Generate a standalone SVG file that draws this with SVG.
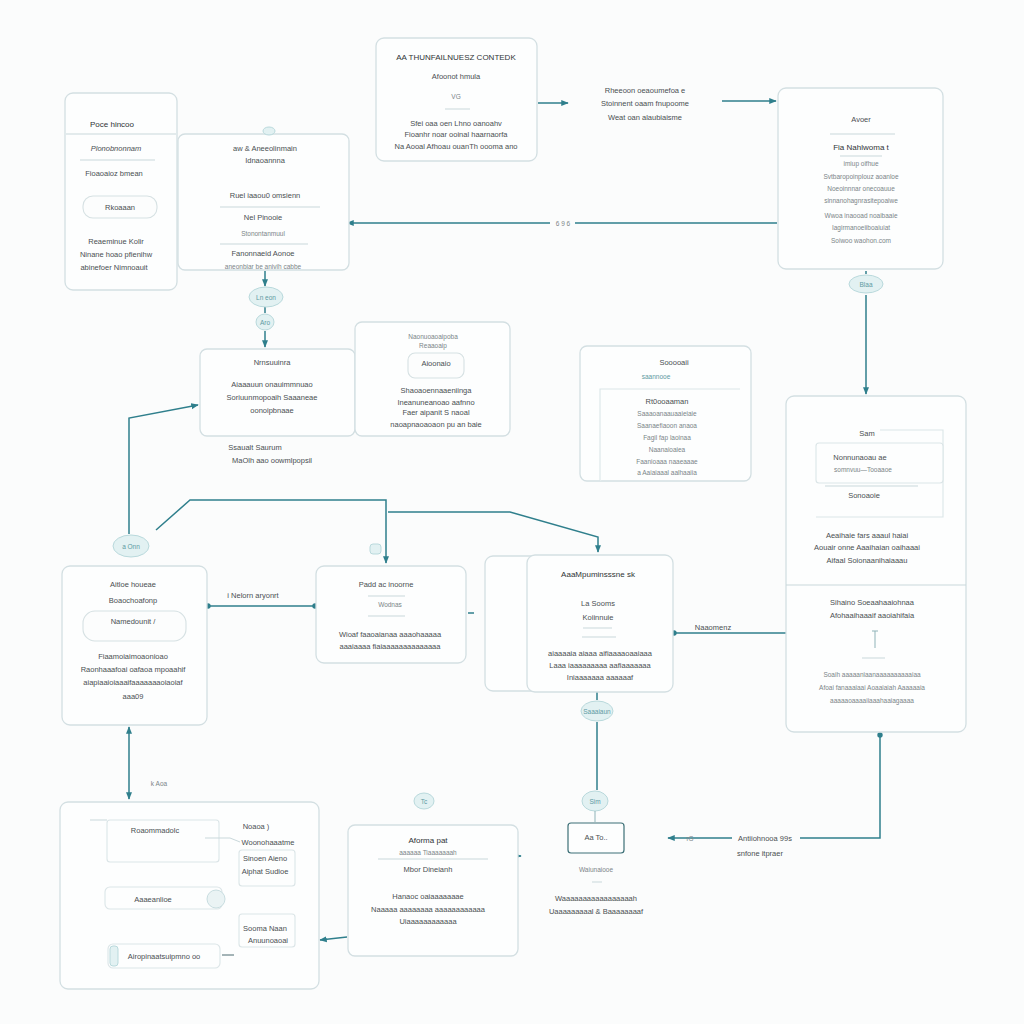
<svg xmlns="http://www.w3.org/2000/svg" width="1024" height="1024" viewBox="0 0 1024 1024">
<defs>
<style>
.bg{fill:#fbfcfc}
.box{fill:#fdfefe;stroke:#d3dfe2;stroke-width:1.3}
.inner{fill:#fdfefe;stroke:#dbe5e7;stroke-width:1.1}
.pill{fill:#fcfdfd;stroke:#d6e1e3;stroke-width:1.1}
.sep{stroke:#c9d8db;stroke-width:1}
.con{fill:none;stroke:#2f7f8c;stroke-width:1.5}
.bub{fill:#e2f1f2;stroke:#b9d9dc;stroke-width:1}
.t{font-family:"Liberation Sans",Arial,sans-serif;font-size:7.5px;fill:#4a4f52;text-anchor:middle}
.h{font-family:"Liberation Sans",Arial,sans-serif;font-size:8px;fill:#2f3436;text-anchor:middle}
.s{font-family:"Liberation Sans",Arial,sans-serif;font-size:6.5px;fill:#7b8588;text-anchor:middle}
.c{font-family:"Liberation Sans",Arial,sans-serif;font-size:6.5px;fill:#5e9aa2;text-anchor:middle}
</style>
<marker id="ar" viewBox="0 0 10 10" refX="9" refY="5" markerWidth="5" markerHeight="5" orient="auto-start-reverse"><path d="M0,1 L10,5 L0,9 z" fill="#2f7f8c"/></marker>
<marker id="dot" viewBox="0 0 10 10" refX="5" refY="5" markerWidth="4.5" markerHeight="4.5"><circle cx="5" cy="5" r="4" fill="#2f7f8c"/></marker>
</defs>
<rect class="bg" x="0" y="0" width="1024" height="1024"/>

<g id="connectors">
<path class="con" d="M538,103 L568,103" marker-end="url(#ar)"/>
<path class="con" d="M722,101 L776,101" marker-end="url(#ar)"/>
<path class="con" d="M777,223 L575,223 M550,223 L347,223" marker-end="url(#ar)"/>
<path class="con" d="M265,271 L265,286" marker-end="url(#ar)"/>
<path class="con" d="M265,307 L265,313"/>
<path class="con" d="M265,331 L265,347" marker-end="url(#ar)"/>
<path class="con" d="M866,271 L866,274"/>
<path class="con" d="M866,295 L866,394" marker-end="url(#ar)"/>
<path class="con" d="M129,534 L129,418 L198,405" marker-end="url(#ar)"/>
<path class="con" d="M156,530 L190,500 L386,500 L386,563" marker-end="url(#ar)"/>
<path class="con" d="M388,512 L510,512 L598,537 L598,552" marker-end="url(#ar)"/>
<path class="con" d="M208,606 L315,606" marker-start="url(#dot)" marker-end="url(#dot)"/>
<path class="con" d="M468,613 L474,613" stroke-width="1"/>
<path class="con" d="M805,633 L674,633" marker-end="url(#dot)"/>
<path class="con" d="M597,692 L597,700"/>
<path class="con" d="M597,722 L597,790"/>
<path class="con" d="M880,735 L880,838 L800,838" marker-start="url(#dot)"/>
<path class="con" d="M732,838 L668,838" marker-end="url(#ar)"/>
<path class="con" d="M129,727 L129,799" marker-start="url(#ar)" marker-end="url(#ar)"/>
<path class="con" d="M347,937 L320,940" marker-end="url(#ar)"/>
<path class="con" d="M500,856 L521,856" marker-end="url(#ar)"/>
</g>

<g id="labels">
<text class="t" x="645" y="93">Rheeoon oeaoumefoa e</text>
<text class="t" x="645" y="106">Stoinnent oaam  fnupoome</text>
<text class="t" x="645" y="120">Weat oan alaubiaisme</text>
<text class="s" x="563" y="226">6 9 6</text>
<text class="t" x="255" y="450">Ssaualt Saurum</text>
<text class="t" x="272" y="463">MaOlh aao oowmlpopsil</text>
<text class="t" x="253" y="598">i Nelorn aryonrt</text>
<text class="t" x="713" y="630">Naaomenz</text>
<text class="t" x="765" y="841">Antiiohnooa 99s</text>
<text class="t" x="760" y="856">snfone itpraer</text>
<text class="s" x="690" y="841">rG</text>
<text class="s" x="159" y="786">k Aoa</text>
</g>

<g id="nodeA">
<rect class="box" x="376" y="38" width="161" height="123" rx="8"/>
<text class="h" x="456" y="60">AA THUNFAILNUESZ CONTEDK</text>
<text class="t" x="456" y="79">Afoonot hmula</text>
<text class="s" x="456" y="99">VG</text>
<line class="sep" x1="445" y1="109" x2="470" y2="109"/>
<text class="t" x="456" y="126">Sfei oaa oen Lhno oanoahv</text>
<text class="t" x="456" y="137">Fioanhr noar ooinal haarnaorfa</text>
<text class="t" x="456" y="149">Na Aooal Afhoau ouanTh oooma ano</text>
</g>

<g id="nodeB">
<rect class="box" x="778" y="88" width="165" height="181" rx="8"/>
<text class="t" x="861" y="122">Avoer</text>
<line class="sep" x1="830" y1="134" x2="895" y2="134"/>
<text class="h" x="861" y="150">Fia Nahlwoma t</text>
<line class="sep" x1="840" y1="156" x2="882" y2="156"/>
<text class="s" x="861" y="166">imiup oifhue</text>
<text class="s" x="861" y="179">Svtbaropoinplouz aoanloe</text>
<text class="s" x="861" y="191">Noeoinnnar onecoauue</text>
<text class="s" x="861" y="203">sinnanohagnrasitepoaiwe</text>
<text class="s" x="861" y="218">Wwoa inaooad noaibaaie</text>
<text class="s" x="861" y="230">Iagirmanoeiiboaiuiat</text>
<text class="s" x="861" y="243">Soiwoo waohon.com</text>
<ellipse class="bub" cx="866" cy="284" rx="17" ry="9"/>
<text class="c" x="866" y="287">Blaa</text>
</g>

<g id="nodeC">
<rect class="box" x="65" y="93" width="112" height="197" rx="8"/>
<text class="h" x="112" y="127">Poce hincoo</text>
<line class="sep" x1="66" y1="134" x2="176" y2="134"/>
<text class="t" x="116" y="151" font-style="italic">Plonobnonnam</text>
<line class="sep" x1="80" y1="160" x2="155" y2="160"/>
<text class="t" x="114" y="176">Fioaoaioz bmean</text>
<rect class="pill" x="83" y="196" width="74" height="22" rx="10"/>
<text class="t" x="120" y="210">Rkoaaan</text>
<text class="t" x="116" y="244">Reaeminue  Kolir</text>
<text class="t" x="116" y="257">Ninane hoao pfienihw</text>
<text class="t" x="114" y="270">abinefoer Nimnoauit</text>
</g>

<g id="nodeD">
<rect class="box" x="178" y="134" width="171" height="136" rx="7"/>
<ellipse class="bub" cx="269" cy="131" rx="6" ry="4"/>
<text class="t" x="265" y="151">aw &amp; Aneeolinmain</text>
<text class="t" x="265" y="163">Idnaoannna</text>
<text class="t" x="265" y="198">Ruel iaaou0 omsienn</text>
<line class="sep" x1="220" y1="207" x2="320" y2="207"/>
<text class="t" x="263" y="220">Nel Pinooie</text>
<text class="s" x="263" y="236">Stonontanmuul</text>
<line class="sep" x1="220" y1="244" x2="308" y2="244"/>
<text class="t" x="263" y="256">Fanonnaeid Aonoe</text>
<text class="s" x="263" y="269">aneonbiar be anivih cabbe</text>
<ellipse class="bub" cx="266" cy="297" rx="17" ry="10"/>
<text class="c" x="266" y="300">Ln eon</text>
<ellipse class="bub" cx="265" cy="322" rx="9" ry="8"/>
<text class="c" x="265" y="325">Aro</text>
</g>

<g id="nodeE">
<rect class="box" x="200" y="349" width="155" height="87" rx="7"/>
<text class="t" x="272" y="365">Nrnsuuinra</text>
<text class="t" x="272" y="387">Aiaaauun onauimmnuao</text>
<text class="t" x="272" y="400">Soriuunmopoaih  Saaaneae</text>
<text class="t" x="272" y="413">oonoipbnaae</text>
</g>

<g id="nodeF">
<rect class="box" x="355" y="322" width="155" height="114" rx="7"/>
<text class="s" x="433" y="339">Naonuoaoaipoba</text>
<text class="s" x="433" y="348">Reaaoaip</text>
<rect class="pill" x="408" y="353" width="56" height="25" rx="7"/>
<text class="t" x="436" y="366">Aioonaio</text>
<text class="t" x="436" y="393">Shaoaoennaaeniinga</text>
<text class="t" x="436" y="405">Ineanuneanoao aafnno</text>
<text class="t" x="436" y="415">Faer aipanit  S naoal</text>
<text class="t" x="436" y="427">naoapnaoaoaon  pu an baie</text>
</g>

<g id="nodeG">
<rect class="box" x="580" y="346" width="171" height="135" rx="7"/>
<text class="t" x="674" y="365">Sooooaii</text>
<text class="c" x="656" y="379">saannooe</text>
<path class="inner" d="M600,481 L600,389 L740,389"/>
<text class="t" x="667" y="404">Rt0ooaaman</text>
<text class="s" x="667" y="416">Saaaoanaauaaieiaie</text>
<text class="s" x="667" y="428">Saanaefiaoon anaoa</text>
<text class="s" x="667" y="440">Fagil fap laoinaa</text>
<text class="s" x="667" y="452">Naanaioaiea</text>
<text class="s" x="667" y="464">Faanioaaa  naaeaaae</text>
<text class="s" x="667" y="475">a Aaiaiaaal  aalhaaiia</text>
</g>

<g id="nodeH">
<rect class="box" x="786" y="396" width="180" height="336" rx="8"/>
<line class="sep" x1="786" y1="585" x2="966" y2="585"/>
<text class="t" x="867" y="436">Sam</text>
<path class="inner" d="M816,517 L943,517 L943,430 L880,430"/>
<rect class="inner" x="816" y="443" width="127" height="40" rx="3"/>
<text class="t" x="860" y="460">Nonnunaoau ae</text>
<text class="s" x="863" y="472">somnvuu—Tooaaoe</text>
<line class="sep" x1="825" y1="486" x2="918" y2="486"/>
<text class="t" x="864" y="498">Sonoaoie</text>
<text class="t" x="867" y="538">Aeaihaie fars aaaul haiai</text>
<text class="t" x="867" y="550">Aouair onne  Aaaihaian  oaihaaai</text>
<text class="t" x="867" y="563">Aifaal Soionaanihaiaaau</text>
<text class="t" x="872" y="605">Sihaino Soeaahaaiohnaa</text>
<text class="t" x="872" y="618">Afohaaihaaaif aaoiahifaia</text>
<path d="M872,631 L878,631 M875,631 L875,648" stroke="#8fb3b8" stroke-width="1"/>
<line class="sep" x1="862" y1="658" x2="885" y2="658"/>
<text class="s" x="872" y="677">Soaih  aaaaaniaanaaaaaaaaaaiaa</text>
<text class="s" x="872" y="690">Afoai fanaaaiaai  Aoaaiaiah  Aaaaaaia</text>
<text class="s" x="872" y="703">aaaaaoaaaaiiaaahaaiagaaaa</text>
</g>

<g id="nodeI">
<rect class="box" x="62" y="566" width="145" height="159" rx="8"/>
<ellipse class="bub" cx="131" cy="546" rx="18" ry="11"/>
<text class="c" x="131" y="549">a Onn</text>
<text class="t" x="133" y="587">Aitloe houeae</text>
<text class="t" x="133" y="603">Boaochoafonp</text>
<rect class="pill" x="83" y="611" width="103" height="30" rx="12"/>
<text class="t" x="133" y="624">Namedounit /</text>
<text class="t" x="133" y="659">Fiaamoiaimoaonioao</text>
<text class="t" x="133" y="672">Raonhaaafoai oafaoa  mpoaahif</text>
<text class="t" x="133" y="685">aiapiaaioiaaaifaaaaaaaoiaoiaf</text>
<text class="t" x="133" y="699">aaa09</text>
</g>

<g id="nodeJ">
<rect class="box" x="316" y="566" width="150" height="97" rx="8"/>
<rect class="bub" x="370" y="544" width="11" height="10" rx="3"/>
<text class="t" x="386" y="587">Padd ac inoorne</text>
<line class="sep" x1="368" y1="596" x2="405" y2="596"/>
<text class="s" x="390" y="607">Wodnas</text>
<line class="sep" x1="368" y1="616" x2="405" y2="616"/>
<text class="t" x="390" y="637">Wioaf faaoaianaa  aaaohaaaaa</text>
<text class="t" x="390" y="649">aaaiaaaa  fiaiaaaaaaaaaaaaaa</text>
</g>

<g id="nodeK">
<rect class="box" x="485" y="556" width="140" height="135" rx="8"/>
<rect class="box" x="527" y="555" width="146" height="137" rx="8"/>
<text class="h" x="598" y="577">AaaMpuminsssne sk</text>
<text class="t" x="598" y="606">La Sooms</text>
<text class="t" x="598" y="620">Koiinnuie</text>
<line class="sep" x1="583" y1="628" x2="612" y2="628"/>
<line class="sep" x1="582" y1="637" x2="616" y2="637"/>
<text class="t" x="600" y="656">aiaaaaia aiaaa  aifiaaaaoaaiaaa</text>
<text class="t" x="600" y="668">Laaa iaaaaaaaaa aafiaaaaaaa</text>
<text class="t" x="600" y="680">Iniaaaaaaa aaaaaaf</text>
<ellipse class="bub" cx="597" cy="711" rx="16" ry="10"/>
<text class="c" x="597" y="714">Saaaiaun</text>
<ellipse class="bub" cx="595" cy="801" rx="13" ry="10"/>
<text class="c" x="595" y="804">Sim</text>
<path d="M595,811 L595,822" stroke="#8fb3b8" stroke-width="1"/>
<rect x="568" y="823" width="56" height="30" rx="3" fill="#fdfefe" stroke="#3c6f76" stroke-width="1.2"/>
<text class="t" x="596" y="840">Aa To..</text>
<text class="s" x="596" y="872">Waiunaiooe</text>
<line class="sep" x1="592" y1="882" x2="602" y2="882"/>
<text class="t" x="596" y="901">Waaaaaaaaaaaaaaaaah</text>
<text class="t" x="596" y="914">Uaaaaaaaaal &amp; Baaaaaaaaf</text>
</g>

<g id="nodeL">
<rect class="box" x="60" y="802" width="259" height="187" rx="8"/>
<rect class="inner" x="107" y="820" width="112" height="42" rx="3"/>
<line class="sep" x1="90" y1="820" x2="107" y2="820"/>
<text class="t" x="155" y="833">Roaommadolc</text>
<path d="M205,838 L230,838 L240,842" fill="none" stroke="#c9d8db" stroke-width="1"/>
<text class="t" x="256" y="829">Noaoa )</text>
<text class="t" x="268" y="845">Woonohaaatme</text>
<rect class="inner" x="239" y="850" width="56" height="36" rx="3"/>
<text class="t" x="265" y="861">Sinoen Aieno</text>
<text class="t" x="265" y="874">Aiphat Sudioe</text>
<rect class="inner" x="105" y="887" width="117" height="22" rx="5"/>
<text class="t" x="153" y="902">Aaaeanlioe</text>
<circle cx="216" cy="899" r="9" fill="#eaf3f4" stroke="#c8dde0" stroke-width="1"/>
<rect class="inner" x="239" y="914" width="56" height="33" rx="3"/>
<text class="t" x="265" y="931">Sooma Naan</text>
<text class="t" x="268" y="943">Anuunoaoai</text>
<rect class="inner" x="108" y="944" width="112" height="24" rx="5"/>
<rect class="bub" x="110" y="946" width="8" height="20" rx="3"/>
<text class="t" x="164" y="959">Airopinaatsuipmno oo</text>
<path d="M222,955 L234,955" stroke="#4a6a70" stroke-width="1"/>
</g>

<g id="nodeM">
<rect class="box" x="348" y="825" width="170" height="131" rx="7"/>
<ellipse class="bub" cx="424" cy="801" rx="10" ry="8"/>
<text class="c" x="424" y="804">Tc</text>
<text class="h" x="428" y="843">Aforma pat</text>
<text class="s" x="428" y="855">aaaaaa  Tiaaaaaaah</text>
<line class="sep" x1="378" y1="859" x2="488" y2="859"/>
<text class="t" x="428" y="872">Mbor Dineianh</text>
<text class="t" x="428" y="899">Hanaoc oaiaaaaaaae</text>
<text class="t" x="428" y="912">Naaaaa aaaaaaaa aaaaaaaaaaaa</text>
<text class="t" x="428" y="924">Uiaaaaaaaaaaaa</text>
</g>
</svg>
